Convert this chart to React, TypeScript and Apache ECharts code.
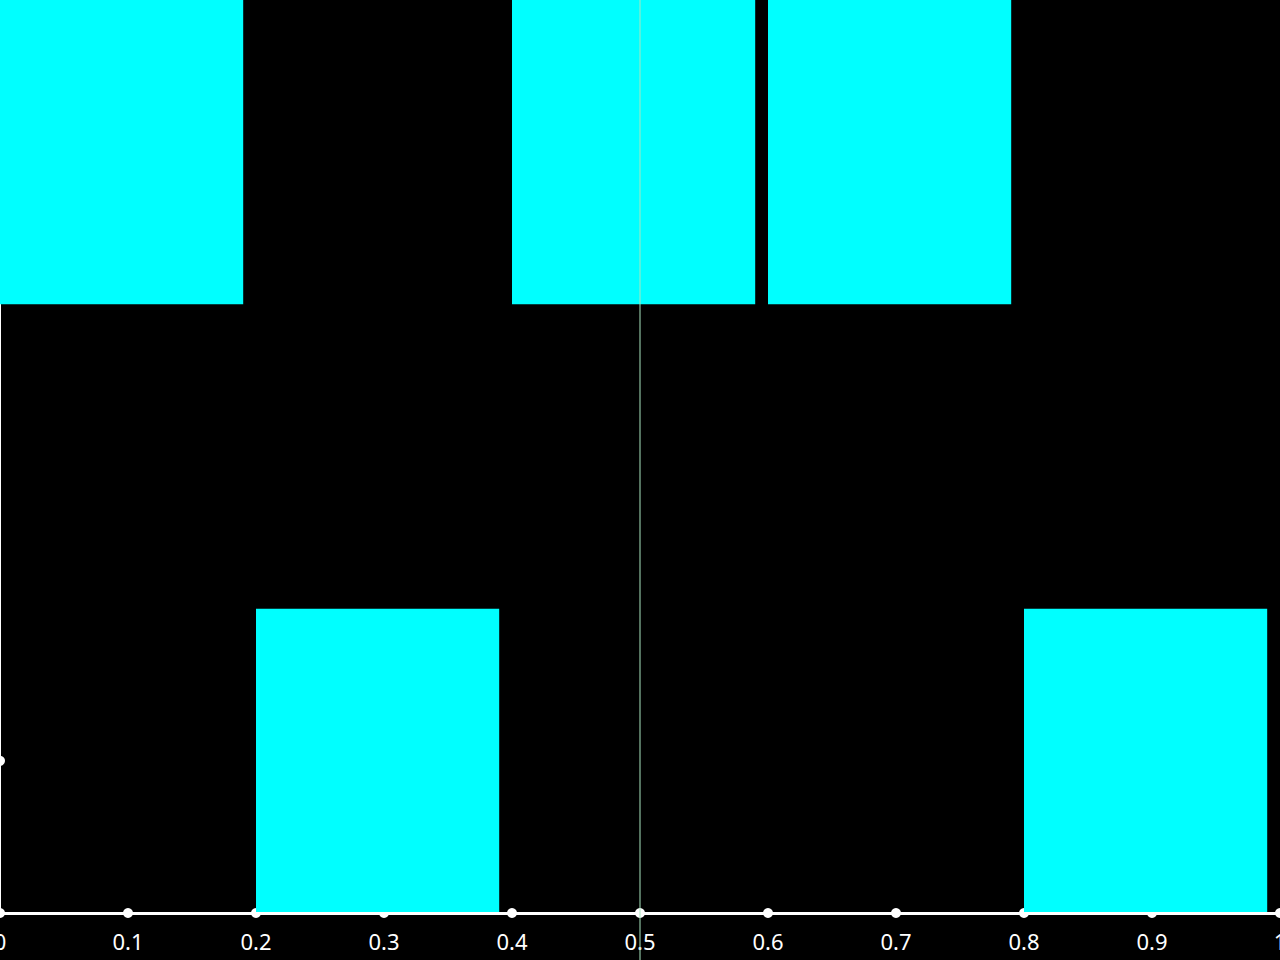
import React, { useEffect, useRef } from "react";
import * as echarts from "echarts";

// Rectangles: [xStart, xEnd, yStart, yEnd]
const barXStart = [0, 0.2, 0.4, 0.6, 0.8];
const barXEnd = [0.19, 0.39, 0.59, 0.79, 0.99];
const barYStart = [4, 0, 4, 4, 0];
const barYEnd = [6, 2, 6, 6, 2];

const xTicks = [0, 0.1, 0.2, 0.3, 0.4, 0.5, 0.6, 0.7, 0.8, 0.9, 1];
const yTickDots = [1];
const markerX = 0.5;

export default function App() {
  const ref = useRef<HTMLDivElement>(null);
  useEffect(() => {
    if (!ref.current) return;
    const chart = echarts.init(ref.current, null, { renderer: "svg" });
    const rects = barXStart.map((x0, i) => [x0, barXEnd[i], barYStart[i], barYEnd[i]]);
    const dots = [
      ...xTicks.map((x) => [x, 0]),
      ...yTickDots.map((y) => [0, y]),
    ];
    chart.setOption({
      animation: false,
      backgroundColor: "#000000",
      grid: {
        left: 0,
        right: 0,
        top: 0,
        bottom: 47,
        containLabel: false,
        outerBoundsMode: "none",
      },
      xAxis: {
        type: "value",
        min: 0,
        max: 1,
        interval: 0.1,
        z: 10,
        axisLine: { show: true, lineStyle: { color: "#ffffff", width: 3 } },
        axisTick: { show: false },
        splitLine: { show: false },
        axisLabel: {
          color: "#ffffff",
          fontSize: 22,
          fontFamily: "Noto Sans",
          margin: 17,
          formatter: (v: number) => String(Math.round(v * 10) / 10),
        },
      },
      yAxis: {
        type: "value",
        min: 0,
        max: 6,
        interval: 1,
        axisLine: { show: true, lineStyle: { color: "#ffffff", width: 2 } },
        axisTick: { show: false },
        splitLine: { show: false },
        axisLabel: { show: false },
      },
      series: [
        {
          type: "scatter",
          data: dots,
          symbol: "circle",
          symbolSize: 10,
          itemStyle: { color: "#ffffff", opacity: 1 },
          z: 1,
          silent: true,
        },
        {
          type: "custom",
          data: rects,
          clip: false,
          z: 3,
          renderItem: (params: any, api: any) => {
            const p0 = api.coord([api.value(0), api.value(3)]);
            const p1 = api.coord([api.value(1), api.value(2)]);
            return {
              type: "rect",
              shape: { x: p0[0], y: p0[1], width: p1[0] - p0[0], height: p1[1] - p0[1] },
              style: { fill: "#00ffff" },
            };
          },
        },
      ],
    });
    // Marker line at x = 0.5, spanning the full height including the label strip
    const px = chart.convertToPixel({ xAxisIndex: 0 }, markerX) as number;
    chart.setOption({
      graphic: [
        {
          type: "line",
          z: 100,
          silent: true,
          shape: { x1: px, y1: 0, x2: px, y2: 960 },
          style: { stroke: "#a8e6bf", lineWidth: 1 },
        },
      ],
    });
    return () => chart.dispose();
  }, []);
  return (
    <div
      ref={ref}
      style={{ position: "fixed", left: 0, top: 0, width: 1280, height: 960 }}
    />
  );
}
